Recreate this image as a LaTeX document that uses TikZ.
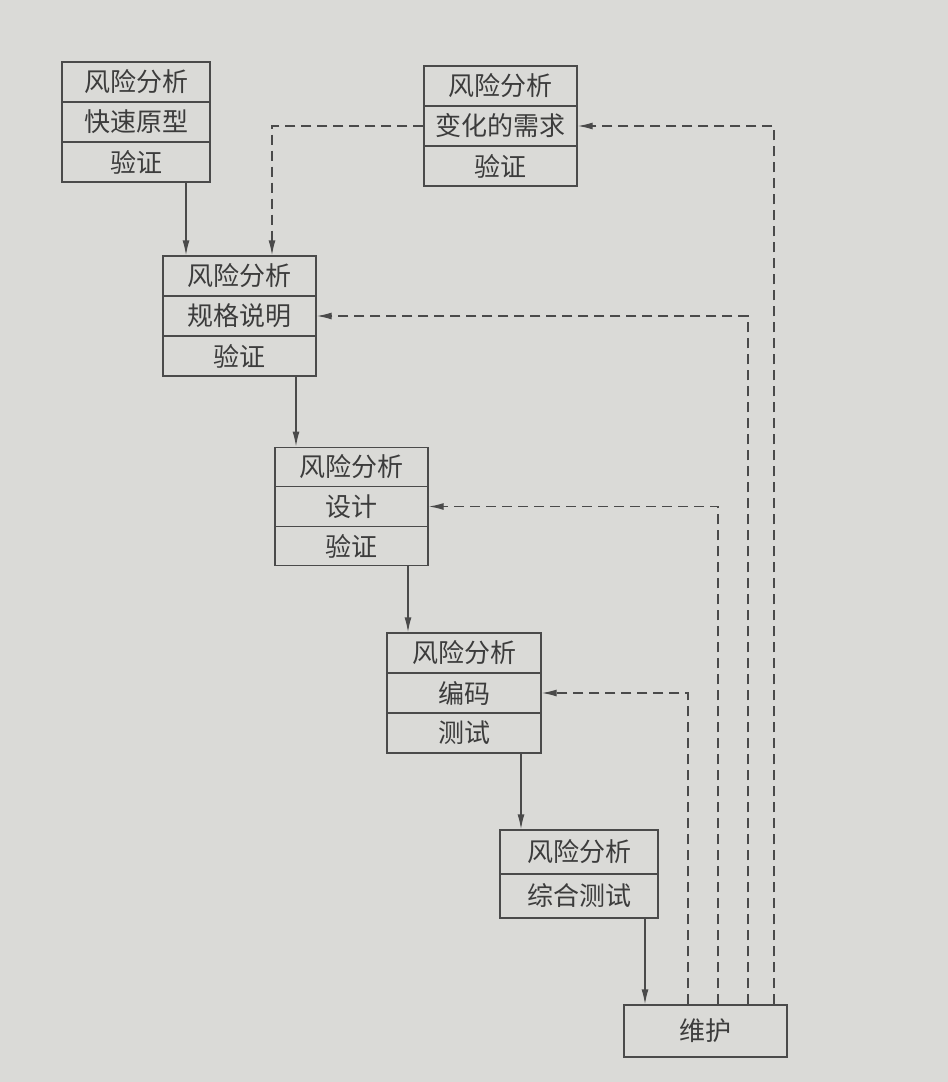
\documentclass[tikz,border=0pt]{standalone}
\usepackage{fontspec}
\setmainfont{Noto Sans CJK SC}
\usetikzlibrary{arrows.meta,calc}
\definecolor{paper}{HTML}{DADAD7}
\definecolor{ink}{HTML}{4A4A4A}
\definecolor{txt}{HTML}{3C3C3C}
\tikzset{
  cell/.style={draw=ink, line width=1.4pt, inner sep=0pt, text=txt,
    font=\fontsize{26}{30}\selectfont},
  solidarr/.style={draw=ink, line width=1.4pt, -{Latex[length=15pt,width=7pt]}},
  dasharr/.style={draw=ink, line width=1.4pt, dash pattern=on 10pt off 6pt,
    -{Latex[length=15pt,width=7pt]}},
}
\begin{document}
\begin{tikzpicture}[x=1pt,y=-1pt]
\useasboundingbox (0,0) rectangle (948,1082);
\fill[paper] (0,0) rectangle (948,1082);
% Box A
\node[cell, minimum width=148pt, minimum height=40pt] (A1) at (136,82) {风险分析};
\node[cell, minimum width=148pt, minimum height=40pt] (A2) at (136,122) {快速原型};
\node[cell, minimum width=148pt, minimum height=40pt] (A3) at (136,162) {验证};
% Box B
\node[cell, minimum width=153pt, minimum height=40pt] (B1) at (500.5,86) {风险分析};
\node[cell, minimum width=153pt, minimum height=40pt] (B2) at (500.5,126) {变化的需求};
\node[cell, minimum width=153pt, minimum height=40pt] (B3) at (500.5,166) {验证};
% Box C
\node[cell, minimum width=153pt, minimum height=40pt] (C1) at (239.5,276) {风险分析};
\node[cell, minimum width=153pt, minimum height=40pt] (C2) at (239.5,316) {规格说明};
\node[cell, minimum width=153pt, minimum height=40pt] (C3) at (239.5,356) {验证};
% Box D
\node[cell, minimum width=153pt, minimum height=39.5pt] (D1) at (351.5,467) {风险分析};
\node[cell, minimum width=153pt, minimum height=39.5pt] (D2) at (351.5,506.5) {设计};
\node[cell, minimum width=153pt, minimum height=39.5pt] (D3) at (351.5,546) {验证};
% Box E
\node[cell, minimum width=154pt, minimum height=40pt] (E1) at (464,653) {风险分析};
\node[cell, minimum width=154pt, minimum height=40pt] (E2) at (464,693) {编码};
\node[cell, minimum width=154pt, minimum height=40pt] (E3) at (464,733) {测试};
% Box F
\node[cell, minimum width=158pt, minimum height=44pt] (F1) at (579,852) {风险分析};
\node[cell, minimum width=158pt, minimum height=44pt] (F2) at (579,896) {综合测试};
% Box G
\node[cell, minimum width=163pt, minimum height=52pt] (G) at (705.5,1031) {维护};
% solid flow
\draw[solidarr] ([xshift=50pt]A3.south) -- ([xshift=50pt]A3.south |- C1.north);
\draw[solidarr] ([xshift=56.5pt]C3.south) -- ([xshift=56.5pt]C3.south |- D1.north);
\draw[solidarr] ([xshift=56.5pt]D3.south) -- ([xshift=56.5pt]D3.south |- E1.north);
\draw[solidarr] ([xshift=57pt]E3.south) -- ([xshift=57pt]E3.south |- F1.north);
\draw[solidarr] ([xshift=66pt]F2.south) -- ([xshift=66pt]F2.south |- G.north);
% dashed feedback
\draw[dasharr] (B2.west) -| ([xshift=32.5pt]C1.north);
\draw[dasharr] ([xshift=-17.5pt]G.north) |- (E2.east);
\draw[dasharr] ([xshift=12.5pt]G.north) |- (D2.east);
\draw[dasharr] ([xshift=42.5pt]G.north) |- (C2.east);
\draw[dasharr] ([xshift=68.5pt]G.north) |- (B2.east);
\end{tikzpicture}
\end{document}
